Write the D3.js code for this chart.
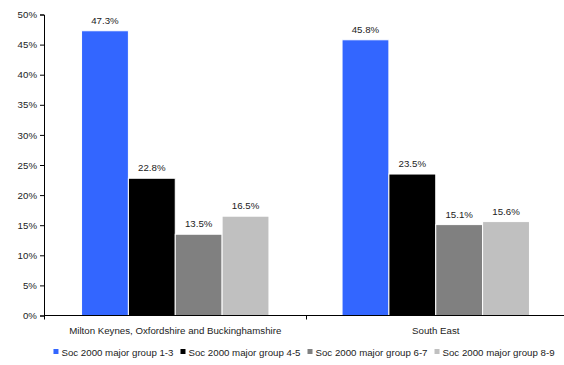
<!DOCTYPE html>
<html><head><meta charset="utf-8">
<script src="https://cdn.jsdelivr.net/npm/d3@7"></script>
<style>body{margin:0;background:#fff}svg{display:block;font-family:"Liberation Sans",Arial,sans-serif}</style>
</head><body><svg id="c" width="564" height="365"></svg>
<script>
const categories = ["Milton Keynes, Oxfordshire and Buckinghamshire", "South East"];
const seriesNames = ["Soc 2000 major group 1-3", "Soc 2000 major group 4-5", "Soc 2000 major group 6-7", "Soc 2000 major group 8-9"];
const seriesValues = [
  [47.3, 45.8],
  [22.8, 23.5],
  [13.5, 15.1],
  [16.5, 15.6]
];
const colors = ["#3366FF", "#000000", "#808080", "#C0C0C0"];
const yTicks = [0, 5, 10, 15, 20, 25, 30, 35, 40, 45, 50];

const FS = 9.7;
const svg = d3.select("#c");
const mLeft = 44, mRight = 566, mTop = 14.5, mBottom = 315.5;
const x0 = d3.scaleBand().domain(categories).range([mLeft + 1, mRight]).paddingInner(0).paddingOuter(0);
const x1 = d3.scaleBand().domain(seriesNames).range([0, x0.bandwidth()]).paddingOuter(0.78).paddingInner(0);
const y = d3.scaleLinear().domain([0, 50]).range([mBottom, mTop]);

// bars
categories.forEach((cat, ci) => {
  seriesNames.forEach((s, si) => {
    const v = seriesValues[si][ci];
    const bx = x0(cat) + x1(s);
    svg.append("rect")
      .attr("x", bx).attr("y", y(v))
      .attr("width", x1.bandwidth()).attr("height", y(0) - y(v))
      .attr("fill", colors[si]).attr("stroke", "#fff").attr("stroke-width", 1);
    svg.append("text")
      .attr("x", bx + x1.bandwidth() / 2).attr("y", y(v) - 7)
      .attr("text-anchor", "middle").attr("font-size", FS).attr("fill", "#222")
      .text(v.toFixed(1) + "%");
  });
});

// y axis
const ya = svg.append("g").attr("transform", `translate(${mLeft},0)`)
  .call(d3.axisLeft(y).tickValues(yTicks).tickFormat(d => d + "%").tickSize(4).tickPadding(3));
ya.select(".domain").attr("stroke", "#000");
ya.selectAll("text").attr("font-size", FS).attr("fill", "#222").attr("font-family", "Liberation Sans, Arial, sans-serif");

// x axis
const xa = svg.append("g").attr("transform", `translate(0,${mBottom})`);
xa.append("line").attr("x1", mLeft).attr("x2", mRight).attr("y1", 0).attr("y2", 0).attr("stroke", "#000");
const boundaries = [mLeft + 0.5, Math.round(x0(categories[1])) + 0.5];
boundaries.forEach(b => xa.append("line").attr("x1", b).attr("x2", b).attr("y1", 0).attr("y2", 4).attr("stroke", "#000"));
categories.forEach(cat => {
  xa.append("text").attr("x", x0(cat) + x0.bandwidth() / 2).attr("y", 18)
    .attr("text-anchor", "middle").attr("font-size", FS).attr("fill", "#222").text(cat);
});

// legend
const lg = svg.append("g");
const items = seriesNames.map((s, i) => {
  const g = lg.append("g");
  g.append("rect").attr("x", 0).attr("y", -3).attr("width", 5).attr("height", 5).attr("fill", colors[i]);
  const t = g.append("text").attr("x", 8).attr("y", 3.5).attr("font-size", FS).attr("fill", "#222").text(s);
  return {g, w: 8 + t.node().getComputedTextLength()};
});
const gap = 7;
const total = d3.sum(items, d => d.w) + gap * (items.length - 1);
let cx = 304 - total / 2;
items.forEach(it => { it.g.attr("transform", `translate(${cx},352)`); cx += it.w + gap; });
</script></body></html>
